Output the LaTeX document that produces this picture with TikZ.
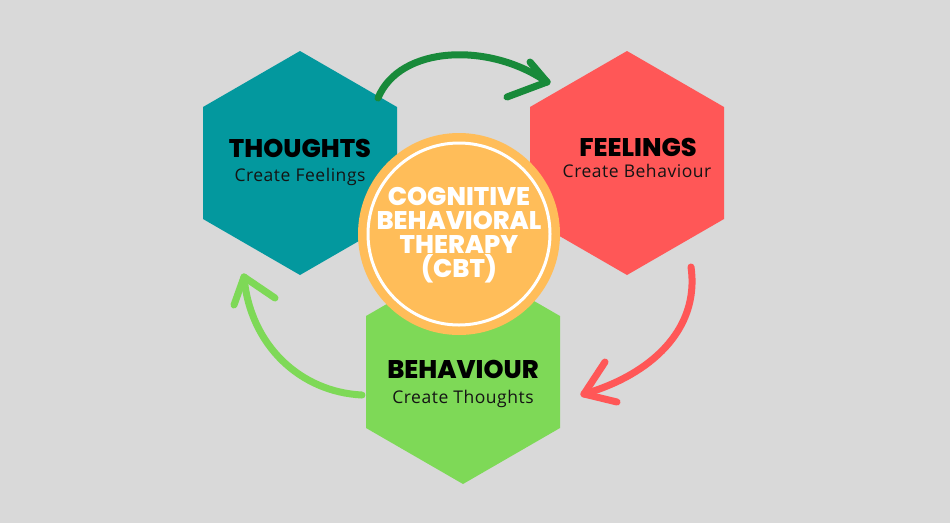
\documentclass[tikz,border=0pt]{standalone}
\usepackage{fontspec}
\setmainfont{Open Sans}
\newfontfamily\headfont{Poppins ExtraBold}
\newfontfamily\subfont{Open Sans}[LetterSpace=3]
\usetikzlibrary{shapes.geometric}

\definecolor{bggray}{HTML}{D9D9D9}
\definecolor{cbtteal}{HTML}{03989E}
\definecolor{coral}{HTML}{FF5757}
\definecolor{leaf}{HTML}{7ED957}
\definecolor{cbtorange}{HTML}{FFBD59}
\definecolor{cbtdkgreen}{HTML}{188A3A}

\tikzset{
	hexa/.style={regular polygon, regular polygon sides=6, rotate=30, minimum size=224pt, inner sep=0pt, draw=none},
	hextitle/.style={anchor=base, inner sep=0pt, font=\headfont\fontsize{25.5}{25.5}\selectfont, text=black},
	hexsub/.style={anchor=base, inner sep=0pt, font=\subfont\fontsize{17.5}{17.5}\selectfont, text=black!92},
	sweep/.style={line width=7pt, line cap=round, line join=round}
}

\begin{document}
\begin{tikzpicture}[x=1pt, y=-1pt]
			%%%%% BACKGROUND %%%%%
			\fill[bggray] (0,0) rectangle (950,523);
			\useasboundingbox (0,0) rectangle (950,523);
			
			%%%%% HEXAGONS %%%%%
			\node[hexa, fill=cbtteal] (thoughts) at (300,163) {};
			\node[hexa, fill=coral] (feelings) at (627,163) {};
			\node[hexa, fill=leaf] (behaviour) at (463,372) {};
			
			%%%%% CENTRE %%%%%
			\node[circle, fill=cbtorange, minimum size=202pt, inner sep=0pt] (cbt) at (459,234) {};
			\draw[white, line width=3pt] (cbt.center) circle (91pt);
			\node[text=white, align=center, inner sep=0pt, font=\headfont\fontsize{25.5}{24}\selectfont] (cbt-text) at (459,235) {COGNITIVE\\BEHAVIORAL\\THERAPY\\(CBT)};
			
			%%%%% LABELS %%%%%
			\node[hextitle] (thoughts-title) at (300,157) {THOUGHTS};
			\node[hexsub] (thoughts-text) at (300,181) {Create Feelings};
			\node[hextitle] (feelings-title) at (638,156) {FEELINGS};
			\node[hexsub] (feelings-text) at (637,177) {Create Behaviour};
			\node[hextitle] (behaviour-title) at (463,378) {BEHAVIOUR};
			\node[hexsub] (behaviour-text) at (463,403) {Create Thoughts};
			
			%%%%% ARROWS %%%%%
			\coordinate (tf-start) at (378,98);
			\coordinate (tf-tip) at (547,82);
			\draw[sweep, cbtdkgreen] (tf-start) .. controls (400,45) and (490,42) .. (tf-tip);
			\draw[sweep, cbtdkgreen] (tf-tip) -- ++(-17,-20);
			\draw[sweep, cbtdkgreen] (tf-tip) -- ++(-40,15);
			
			\coordinate (fb-start) at (691,267);
			\coordinate (fb-tip) at (584,394);
			\draw[sweep, coral] (fb-start) .. controls (700,330) and (650,375) .. (fb-tip);
			\draw[sweep, coral] (fb-tip) -- ++(21,-32);
			\draw[sweep, coral] (fb-tip) -- ++(33,8);
			
			\coordinate (bt-start) at (362,395);
			\coordinate (bt-tip) at (244,277);
			\draw[sweep, leaf] (bt-start) .. controls (300,392) and (250,345) .. (bt-tip);
			\draw[sweep, leaf] (bt-tip) -- ++(-10,28);
			\draw[sweep, leaf] (bt-tip) -- ++(31,21);
		\end{tikzpicture}
\end{document}
